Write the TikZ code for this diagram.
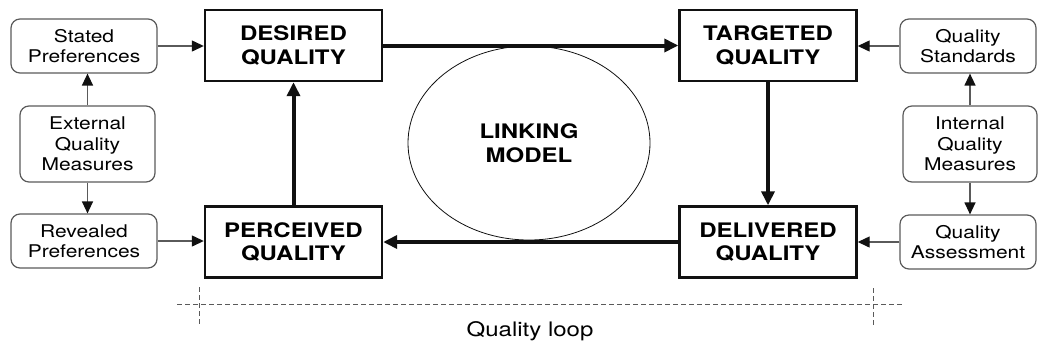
\documentclass[tikz,border=0pt]{standalone}
\usepackage{fontspec}
\setmainfont{TeX Gyre Heros}[FakeStretch=1.2]
\usetikzlibrary{arrows.meta,shapes.geometric}
\definecolor{qlgrey}{HTML}{5A5A5A}
\definecolor{qlink}{HTML}{111111}

\begin{document}
\begin{tikzpicture}[
  x=1pt, y=-1pt,
  core/.style  = {rectangle, draw=qlink, line width=2.4pt, inner sep=0pt,
                  minimum width=177pt, minimum height=71pt, align=center,
                  font=\fontsize{20}{23.5}\selectfont\bfseries},
  side/.style  = {rectangle, rounded corners=9pt, draw=qlgrey, line width=1.2pt,
                  inner sep=0pt, minimum width=146pt, minimum height=54pt,
                  align=center, font=\fontsize{17.5}{20.5}\selectfont},
  measure/.style = {side, minimum width=135pt, minimum height=76pt},
  loop/.style  = {-{Triangle[length=14pt,width=13pt]}, draw=qlink, line width=4pt},
  feed/.style  = {-{Triangle[length=12pt,width=11pt,color=qlink]}, draw=qlgrey, line width=1.3pt},
  bracket/.style = {draw=qlgrey, line width=0.9pt, dash pattern=on 5pt off 3pt},
]
\useasboundingbox (0,0) rectangle (1038,346);

% quality loop
\node[core] (desired)   at (293.5,45.5) {DESIRED\\QUALITY};
\node[core] (targeted)  at (768,45.5)   {TARGETED\\QUALITY};
\node[core] (delivered) at (768,242)    {DELIVERED\\QUALITY};
\node[core] (perceived) at (293.5,242)  {PERCEIVED\\QUALITY};
\node[ellipse, draw=qlink, line width=0.8pt, minimum width=242pt, minimum height=194pt,
      inner sep=0pt, align=center, font=\fontsize{20}{23.5}\selectfont\bfseries]
      (linking) at (529,143) {LINKING\\MODEL};

% external side
\node[side]    (stated)   at (84,46)    {Stated\\Preferences};
\node[measure] (external) at (87.5,144) {External\\Quality\\Measures};
\node[side]    (revealed) at (84,241)   {Revealed\\Preferences};

% internal side
\node[side, minimum width=136pt]    (standards)  at (968,46)  {Quality\\Standards};
\node[measure, minimum width=134pt] (internal)   at (970,144) {Internal\\Quality\\Measures};
\node[side, minimum width=136pt]    (assessment) at (968,242) {Quality\\Assessment};

\draw[loop] (desired) -- (targeted);
\draw[loop] (targeted) -- (delivered);
\draw[loop] (delivered) -- (perceived);
\draw[loop] (perceived) -- (desired);

\draw[feed] (stated) -- (stated -| desired.west);
\draw[feed] (revealed) -- (revealed -| perceived.west);
\draw[feed] (external.north) -- (stated.south -| external.north);
\draw[feed] (external.south) -- (revealed.north -| external.south);
\draw[feed] (standards) -- (standards -| targeted.east);
\draw[feed] (assessment) -- (assessment -| delivered.east);
\draw[feed] (internal.north) -- (standards.south -| internal.north);
\draw[feed] (internal.south) -- (assessment.north -| internal.south);

% loop extent
\coordinate (lstart) at (177,304);
\coordinate (lend)   at (902,304);
\coordinate (ltop1)  at (199,287);
\coordinate (lbot1)  at (199,325);
\coordinate (ltop2)  at (873,288);
\coordinate (lbot2)  at (873,327);
\draw[bracket] (lstart) -- (lend);
\draw[bracket] (ltop1) -- (lbot1);
\draw[bracket] (ltop2) -- (lbot2);
\node[font=\fontsize{20}{22}\selectfont] (looplabel) at (530,331) {Quality loop};
\end{tikzpicture}
\end{document}
